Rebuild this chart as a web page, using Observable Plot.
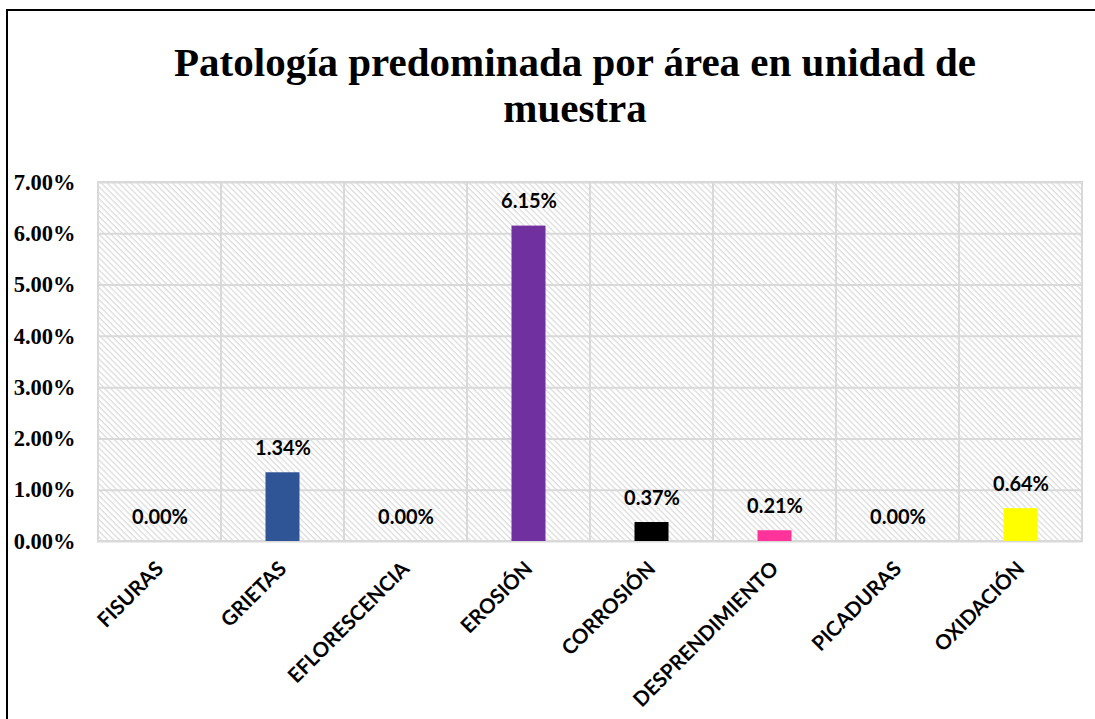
<!DOCTYPE html>
<html><head><meta charset="utf-8">
<script src="https://cdn.jsdelivr.net/npm/d3@7"></script>
<script src="https://cdn.jsdelivr.net/npm/@observablehq/plot@0.6"></script>
<style>
body{margin:0;background:#fff;}
#wrap{position:relative;width:1095px;height:719px;overflow:hidden;background:#fff;}
#frame{position:absolute;left:6px;top:9px;width:2000px;height:2000px;border-left:2px solid #000;border-top:2px solid #000;pointer-events:none;}
#title{position:absolute;left:55px;top:39px;width:1040px;text-align:center;font-family:"Liberation Serif","Times New Roman",serif;font-weight:bold;font-size:41px;line-height:46px;color:#000;}
#chart{position:absolute;left:0;top:0;}
</style>
</head><body>
<div id="wrap">
  <div id="chart"></div>
  <div id="frame"></div>
  <div id="title">Patología predominada por área en unidad de<br>muestra</div>
</div>
<script>
const categories = ["FISURAS","GRIETAS","EFLORESCENCIA","EROSIÓN","CORROSIÓN","DESPRENDIMIENTO","PICADURAS","OXIDACIÓN"];
const values = [0.0000, 0.0134, 0.0000, 0.0615, 0.0037, 0.0021, 0.0000, 0.0064];
const colors = ["#4472C4","#2F5597","#A5A5A5","#7030A0","#000000","#FF3399","#70AD47","#FFFF00"];
const yTicks = [0, 0.01, 0.02, 0.03, 0.04, 0.05, 0.06, 0.07];

const data = categories.map((c, i) => ({cat: c, value: values[i], color: colors[i]}));
const pct = d3.format(".2%");

const chart = Plot.plot({
  width: 1095, height: 719,
  marginTop: 182, marginBottom: 178, marginLeft: 97, marginRight: 13,
  style: {background: "transparent", overflow: "visible"},
  x: {domain: categories, padding: 0, label: null},
  y: {domain: [0, 0.07], label: null},
  color: {type: "identity"},
  marks: [
    Plot.frame({fill: "url(#hatch)", stroke: "none"}),
    Plot.ruleY(yTicks, {stroke: "#d9d9d9", strokeWidth: 2}),
    Plot.cell(categories, {x: d => d, fill: "none", stroke: "#d9d9d9", strokeWidth: 2}),
    Plot.barY(data, {x: "cat", y: "value", fill: "color", insetLeft: 44.5, insetRight: 44.5}),
    Plot.text(data, {x: "cat", y: "value", text: d => pct(d.value), dy: -24,
      fontFamily: "Lato, 'Open Sans', sans-serif", fontWeight: "bold", fontSize: 20, fill: "#000"}),
    Plot.axisY({ticks: yTicks, tickFormat: ".2%", tickSize: 0, tickPadding: 22, label: null,
      fontFamily: "'Liberation Serif', 'Times New Roman', serif", fontWeight: "bold", fontSize: 22.5, fill: "#000"}),
    Plot.axisX({tickSize: 0, tickRotate: -45, tickPadding: 24, label: null,
      fontFamily: "Lato, 'Open Sans', sans-serif", fontWeight: "bold", fontSize: 20.5, fill: "#000"})
  ]
});

const svg = d3.select(chart);
const defs = svg.insert("defs", ":first-child");
const p = defs.append("pattern").attr("id", "hatch")
  .attr("patternUnits", "userSpaceOnUse").attr("width", 4.2).attr("height", 4.2)
  .attr("patternTransform", "rotate(-45)");
p.append("rect").attr("width", 4.2).attr("height", 4.2).attr("fill", "#ffffff");
p.append("line").attr("x1", 1).attr("y1", 0).attr("x2", 1).attr("y2", 4.2)
  .attr("stroke", "#dadada").attr("stroke-width", 1.2);

document.getElementById("chart").appendChild(chart);
</script>
</body></html>
